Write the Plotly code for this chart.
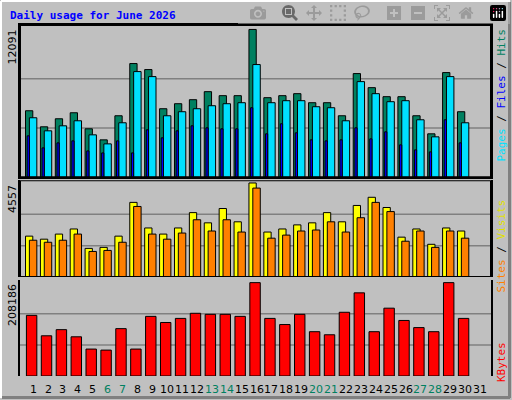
import plotly.graph_objects as go

days = list(range(1, 31))
day_labels = [str(d) for d in range(1, 32)]
weekend_days = [6, 7, 13, 14, 20, 21, 27, 28]
hits = [5444, 4131, 4788, 5280, 3967, 3064, 5034, 9302, 8810, 5609, 6019, 6348, 7004, 6676, 6676,
        12091, 6512, 6676, 6840, 6101, 6101, 5034, 8482, 7332, 6594, 6594, 5034, 3557, 8564, 5363]
pages = [4870, 3803, 4213, 4624, 3475, 2736, 4460, 8646, 8235, 5034, 5363, 5609, 5855, 6019, 6101,
         9220, 6101, 6265, 6265, 5773, 5691, 4624, 7825, 6840, 6183, 6265, 4706, 3311, 8235, 4460]
files = [3393, 2408, 2818, 2982, 2161, 1997, 2982, 1997, 3885, 3228, 3803, 4213, 4049, 3967, 3967,
         5691, 3557, 4378, 3639, 3064, 2982, 3064, 4049, 3146, 3721, 2654, 2244, 2079, 4706, 2818]
visits = [1981, 1833, 2080, 2328, 1387, 1436, 1981, 3616, 2377, 2080, 2377, 3120, 2625, 3319, 2675,
          4557, 2179, 2328, 2526, 2625, 3120, 2675, 3467, 3863, 3368, 1932, 2328, 1585, 2377, 2229]
sites = [1783, 1684, 1783, 2080, 1238, 1288, 1684, 3418, 2080, 1833, 2130, 2774, 2229, 2774, 2179,
         4309, 1882, 2031, 2229, 2278, 2675, 2179, 2873, 3616, 3170, 1734, 2229, 1436, 2229, 1882]
kbytes = [135246, 89656, 103333, 87377, 60024, 57745, 105612, 60024, 132966, 119289, 128406, 139803,
          137524, 137524, 132966, 208186, 128406, 114730, 137524, 98774, 91936, 142083, 185391, 98774,
          151200, 123847, 107892, 98774, 208186, 128406]

fig = go.Figure()
ln = dict(color="black", width=1)

def bar(y, color, off, w, ax):
    fig.add_trace(go.Bar(x=days, y=y, marker=dict(color=color, line=ln), offset=off, width=w,
                         xaxis="x", yaxis=ax, showlegend=False, hoverinfo="skip"))

bar(hits, "#008060", -0.51, 0.49, "y")
bar(pages, "#00E0FF", -0.25, 0.5, "y")
bar(files, "#0000FF", -0.4, 0.15, "y")
bar(visits, "#FFFF00", -0.51, 0.49, "y2")
bar(sites, "#FF8000", -0.25, 0.5, "y2")
bar(kbytes, "#FF0000", -0.45, 0.7, "y3")

def px(x): return (x - 20) / 471
def py(y): return (376 - y) / 351

shapes = []
for ax, m in (("y", max(hits)), ("y2", max(visits)), ("y3", max(kbytes))):
    for f in (1/3, 2/3):
        shapes.append(dict(type="line", xref="x", yref=ax, x0=0.1, x1=32, y0=m*f, y1=m*f,
                           line=dict(color="#808080", width=1.5), layer="below"))
# outer bevel frame
shapes += [
    dict(type="line", xref="paper", yref="paper", x0=px(1), x1=px(1), y0=py(398), y1=py(1),
         line=dict(color="white", width=2)),
    dict(type="line", xref="paper", yref="paper", x0=px(1), x1=px(510), y0=py(1), y1=py(1),
         line=dict(color="white", width=2)),
    dict(type="line", xref="paper", yref="paper", x0=px(2), x1=px(510), y0=py(397.5), y1=py(397.5),
         line=dict(color="#808080", width=3)),
    dict(type="line", xref="paper", yref="paper", x0=px(509.5), x1=px(509.5), y0=py(398), y1=py(2),
         line=dict(color="#808080", width=3)),
]

ann = [dict(text="<b>Daily usage for June 2026</b>", xref="paper", yref="paper", x=px(8), y=py(15),
            xanchor="left", yanchor="middle", showarrow=False,
            font=dict(family="DejaVu Sans Mono", size=11, color="#0000FF"))]
for txt, ytop in (("12091", 28), ("4557", 183), ("208186", 282)):
    ann.append(dict(text=txt, xref="paper", yref="paper", x=px(12), y=py(ytop), textangle=-90,
                    xanchor="center", yanchor="top", showarrow=False,
                    font=dict(family="DejaVu Sans", size=11, color="black")))
mono = "DejaVu Sans Mono"
ann.append(dict(text="<span style='color:#00E0FF'>Pages</span><span style='color:black'> / </span>"
                     "<span style='color:#0000FF'>Files</span><span style='color:black'> / </span>"
                     "<span style='color:#008060'>Hits</span>",
                xref="paper", yref="paper", x=px(501), y=py(27), textangle=-90, xanchor="center",
                yanchor="top", showarrow=False, font=dict(family=mono, size=11)))
ann.append(dict(text="<span style='color:#FF8000'>Sites</span><span style='color:black'> / </span>"
                     "<span style='color:#E0E000'>Visits</span>",
                xref="paper", yref="paper", x=px(501), y=py(198), textangle=-90, xanchor="center",
                yanchor="top", showarrow=False, font=dict(family=mono, size=11)))
ann.append(dict(text="KBytes", xref="paper", yref="paper", x=px(501), y=py(340), textangle=-90,
                xanchor="center", yanchor="top", showarrow=False,
                font=dict(family=mono, size=11, color="#FF0000")))
for i, lab in enumerate(day_labels):
    d = i + 1
    ann.append(dict(text=lab, xref="x", yref="paper", x=d, y=py(389), showarrow=False,
                    xanchor="center", yanchor="middle",
                    font=dict(family="DejaVu Sans", size=11,
                              color="#008060" if d in weekend_days else "black")))

axcommon = dict(showgrid=False, zeroline=False, showticklabels=False, ticks="",
                showline=True, mirror=True, linecolor="black", linewidth=2)
fig.update_layout(
    width=512, height=400, margin=dict(l=20, r=21, t=25, b=24),
    paper_bgcolor="#C0C0C0", plot_bgcolor="#C0C0C0", barmode="overlay",
    xaxis=dict(range=[0.12, 31.74], **axcommon),
    yaxis=dict(domain=[0.566, 1], range=[0, max(hits)*1.03], **axcommon),
    yaxis2=dict(domain=[0.282, 0.558], range=[0, max(visits)*1.03], **axcommon),
    yaxis3=dict(domain=[0, 0.274], range=[0, max(kbytes)*1.03], **axcommon),
    shapes=shapes, annotations=ann,
)
for ax in ("y", "y2"):
    fig.add_shape(type="rect", xref="x", yref=ax, x0=0.12, x1=31.74, y0=0,
                  y1=(max(hits) if ax == "y" else max(visits))*1.03,
                  line=dict(color="black", width=2))
fig.write_html("out.html",
               post_script="document.body.style.margin='0';document.body.style.overflow='hidden';")
